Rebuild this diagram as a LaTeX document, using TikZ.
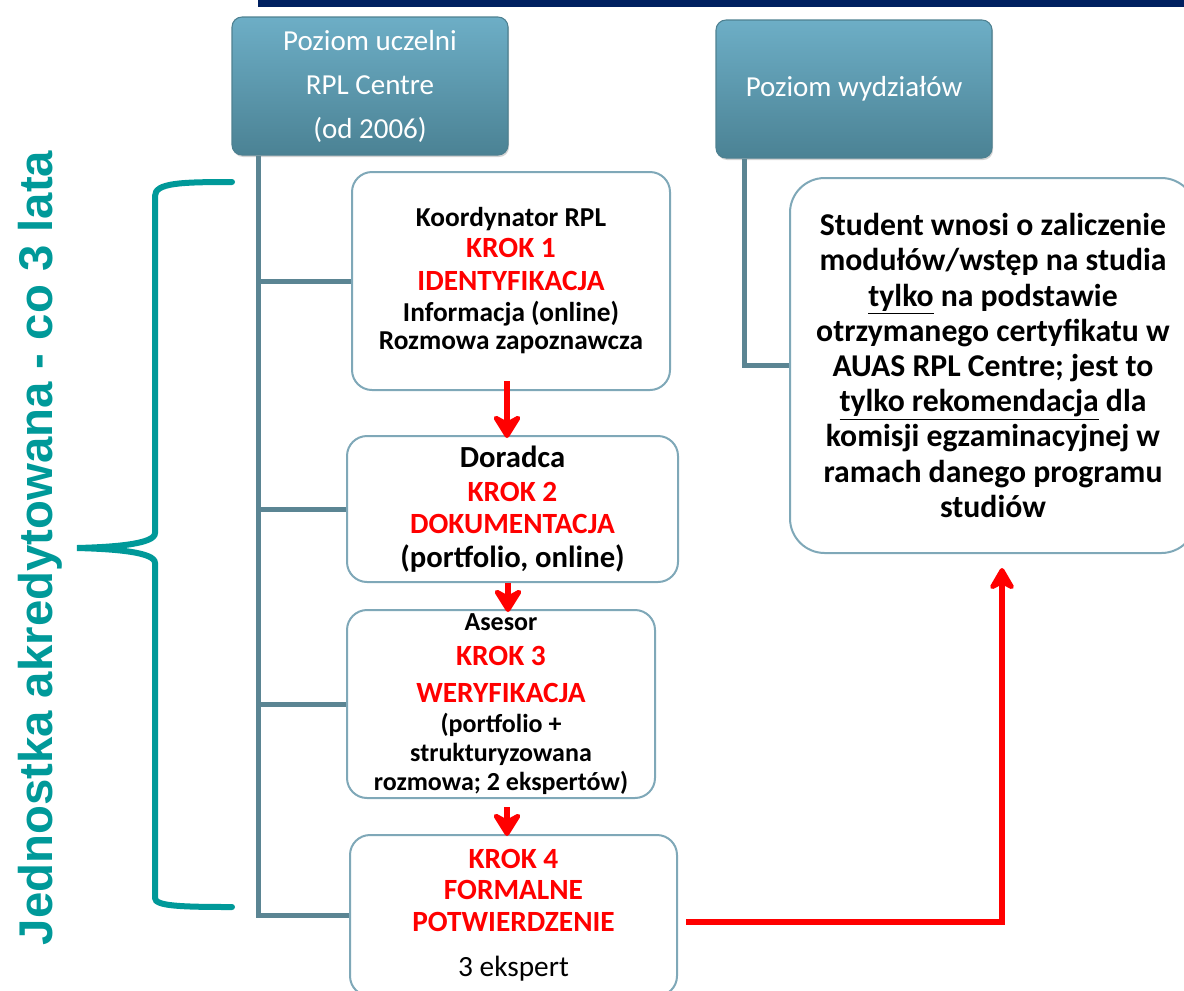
\documentclass[tikz,border=0pt]{standalone}
\usepackage{fontspec}
\setmainfont{Carlito}
\newfontfamily\libsans{Liberation Sans}
\usetikzlibrary{arrows.meta,calc,shadows}
\definecolor{navy}{HTML}{002060}
\definecolor{trunkc}{HTML}{5B8593}
\definecolor{boxline}{HTML}{7FA8B8}
\definecolor{hdrtop}{HTML}{6DAEC6}
\definecolor{hdrbot}{HTML}{4B8294}
\definecolor{hdrline}{HTML}{4E8191}
\definecolor{krokred}{HTML}{FF0000}
\definecolor{tealc}{HTML}{009999}
\newcommand\kr[1]{{\fontsize{22}{21}\selectfont\color{krokred}#1}}
\begin{document}
\begin{tikzpicture}[x=0.75pt,y=-0.75pt,
  hdr/.style={draw=hdrline, line width=0.8pt, rounded corners=7.5pt,
    top color=hdrtop, bottom color=hdrbot, text=white, align=center,
    inner sep=0pt, font=\fontsize{21.75}{33}\selectfont,
    drop shadow={shadow xshift=0.8pt, shadow yshift=-1.5pt, opacity=0.35}},
  kbox/.style={draw=boxline, line width=1.5pt, rounded corners=15pt, fill=white,
    align=center, inner sep=0pt},
  trunk/.style={draw=trunkc, line width=3.75pt},
  redarrow/.style={draw=krokred, line width=5pt,
    -{Stealth[length=21pt,width=26pt,inset=7pt,round]}},
  redline/.style={draw=krokred, line width=4.5pt,
    -{Stealth[length=20pt,width=23pt,inset=6pt,round]}},
  brace/.style={draw=tealc, line width=4.5pt, line cap=round}
]
\useasboundingbox (0,0) rectangle (1184,990);
% top navy bar
\fill[navy] (258,0) rectangle (1184,7);

% header boxes
\node[hdr, minimum width=276*0.75pt, minimum height=138*0.75pt] (A) at (370,86)
  {Poziom uczelni\\RPL Centre\\(od 2006)};
\node[hdr, minimum width=276*0.75pt, minimum height=138*0.75pt] (B) at (854,89)
  {Poziom wydziałów};

% step boxes
\node[kbox, minimum width=318*0.75pt, minimum height=218*0.75pt,
  font=\bfseries\fontsize{20.5}{21}\selectfont] (K1) at (511,281)
  {Koordynator RPL\\[2.25pt]
   \kr{KROK 1}\\[3.75pt]
   \kr{IDENTYFIKACJA}\\[2.25pt]
   Informacja (online)\\
   Rozmowa zapoznawcza};
\node[kbox, minimum width=331*0.75pt, minimum height=146*0.75pt,
  font=\bfseries\fontsize{23}{24}\selectfont] (K2) at (512.5,509)
  {Doradca\\[1.5pt]
   \kr{KROK 2}\\
   \kr{DOKUMENTACJA}\\[1.5pt]
   (portfolio, online)};
\node[kbox, minimum width=308*0.75pt, minimum height=188*0.75pt,
  font=\bfseries\fontsize{19.5}{21.5}\selectfont] (K3) at (501,704)
  {Asesor\\[4.75pt]
   \kr{KROK 3}\\[6.25pt]
   \kr{WERYFIKACJA}\\[1pt]
   (portfolio +\\
   strukturyzowana\\
   rozmowa; 2 ekspertów)};
\node[kbox, minimum width=327*0.75pt, minimum height=161*0.75pt,
  font=\bfseries\fontsize{22}{23}\selectfont] (K4) at (513.5,915.5)
  {\kr{KROK 4}\\[0.25pt]
   \kr{FORMALNE}\\[1pt]
   \kr{POTWIERDZENIE}\\[10.75pt]
   {\mdseries 3 ekspert}};

% faculty box
\node[kbox, rounded corners=26pt, minimum width=406*0.75pt, minimum height=375*0.75pt,
  font=\bfseries\fontsize{23.8}{26.4}\selectfont] (C) at (993,365.5)
  {Student wnosi o zaliczenie\\
   modułów/wstęp na studia\\
   \underline{tylko} na podstawie\\
   otrzymanego certyfikatu w\\
   AUAS RPL Centre; jest to\\
   \underline{tylko rekomendacja} dla\\
   komisji egzaminacyjnej w\\
   ramach danego programu\\
   studiów};

% trunks
\coordinate (tA) at ($(A.south west)+(27,0)$);
\coordinate (tB) at ($(B.south west)+(29,0)$);
\draw[trunk] (tA) |- (K4.west);
\draw[trunk] (K1.west) -- (K1.west -| tA);
\draw[trunk] (K2.west) -- (K2.west -| tA);
\draw[trunk] (K3.west) -- (K3.west -| tA);
\draw[trunk] (tB) |- (C.west);

% red arrows
\draw[redarrow] ($(K1.south)+(-4,-10)$) -- ($(K2.north)+(-5.5,3)$);
\draw[redarrow] ($(K2.south)+(-4.5,0)$) -- ($(K3.north)+(7,3)$);
\draw[redarrow] ($(K3.south)+(6,8)$) -- ($(K4.north)+(-6.5,2)$);
\draw[redline] ($(K4.east)+(8,6.5)$) -| ($(C.south)+(9,14)$);

% brace and label
\draw[brace] (232,182) .. controls (180,182) and (155,183) .. (155,196)
  -- (155,533) .. controls (155,544) and (115,547) .. (77,548)
  .. controls (115,549) and (155,552) .. (155,563)
  -- (155,898) .. controls (155,906) and (180,907) .. (232,907);
\node[font=\libsans\bfseries\fontsize{35.5}{40}\selectfont, text=tealc,
  rotate=90, inner sep=0pt] (acc) at (40,548) {Jednostka akredytowana - co 3 lata};
\end{tikzpicture}
\end{document}
